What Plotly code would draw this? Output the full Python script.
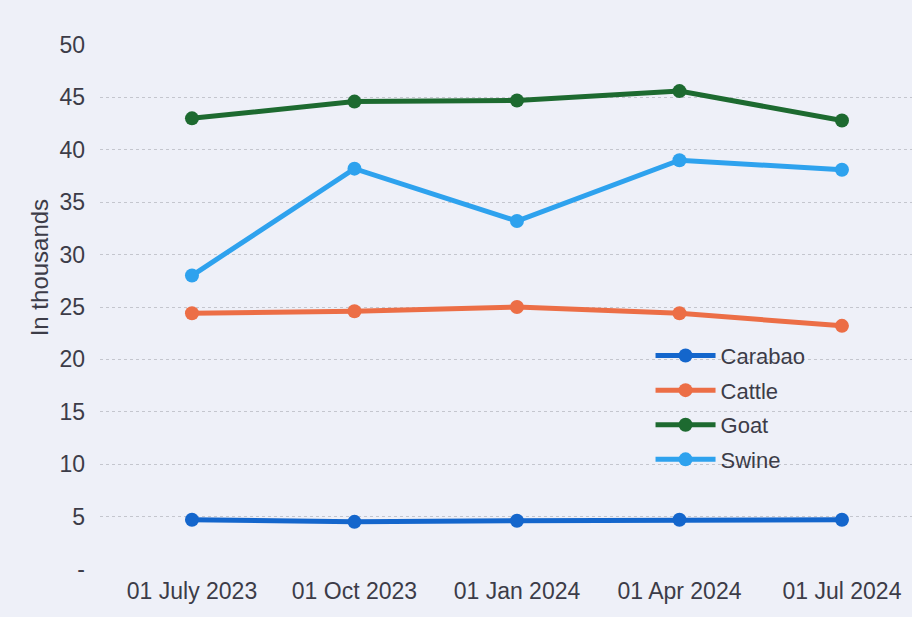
import plotly.graph_objects as go

categories = ["01 July 2023", "01 Oct 2023", "01 Jan 2024", "01 Apr 2024", "01 Jul 2024"]
carabao = [4.7, 4.5, 4.6, 4.7, 4.7]
cattle = [24.4, 24.6, 25.0, 24.4, 23.2]
goat = [43.0, 44.6, 44.7, 45.6, 42.8]
swine = [28.0, 38.2, 33.2, 39.0, 38.1]

y_tickvals = [0, 5, 10, 15, 20, 25, 30, 35, 40, 45, 50]
y_ticktext = ["-", "5", "10", "15", "20", "25", "30", "35", "40", "45", "50"]

series = [
    ("Carabao", carabao, "#1466CC"),
    ("Cattle", cattle, "#EC6E46"),
    ("Goat", goat, "#1D6A30"),
    ("Swine", swine, "#2EA2EE"),
]

FONT = "Liberation Sans, Arial, sans-serif"
TXT = "#3C3C48"

fig = go.Figure()
for name, vals, color in series:
    fig.add_trace(go.Scatter(
        x=categories, y=vals, name=name, mode="lines+markers",
        line=dict(color=color, width=5),
        marker=dict(color=color, size=14),
        legendgroup=name,
    ))

fig.update_layout(
    width=912, height=617,
    margin=dict(l=100, r=0, t=45, b=48),
    paper_bgcolor="#EEF0F8",
    plot_bgcolor="#EEF0F8",
    font=dict(family=FONT, size=22, color=TXT),
    showlegend=True,
    legend=dict(
        x=0.678, y=0.447, xanchor="left", yanchor="top",
        bgcolor="rgba(0,0,0,0)",
        font=dict(size=22, color=TXT),
        itemwidth=60,
        tracegroupgap=3,
    ),
    annotations=[dict(
        text="In thousands", xref="paper", yref="y",
        x=-0.075, y=28.7, textangle=-90, showarrow=False,
        font=dict(size=24, color=TXT), xanchor="center", yanchor="middle",
    )],
)
fig.update_xaxes(
    type="category",
    range=[-0.566, 4.431],
    showgrid=False,
    zeroline=False,
    showline=False,
    ticks="",
    ticklabelstandoff=6,
    tickfont=dict(size=23, color=TXT),
)
fig.update_yaxes(
    range=[0, 50],
    tickvals=y_tickvals,
    ticktext=y_ticktext,
    showgrid=True,
    gridcolor="#C4C6CE",
    griddash="dot",
    gridwidth=1,
    zeroline=False,
    showline=False,
    ticks="",
    ticklabelstandoff=14,
    tickfont=dict(size=23, color=TXT),
)

fig.write_html(
    "out.html",
    config={"displayModeBar": False},
    post_script="document.body.style.margin='0';document.body.style.overflow='hidden';",
)
